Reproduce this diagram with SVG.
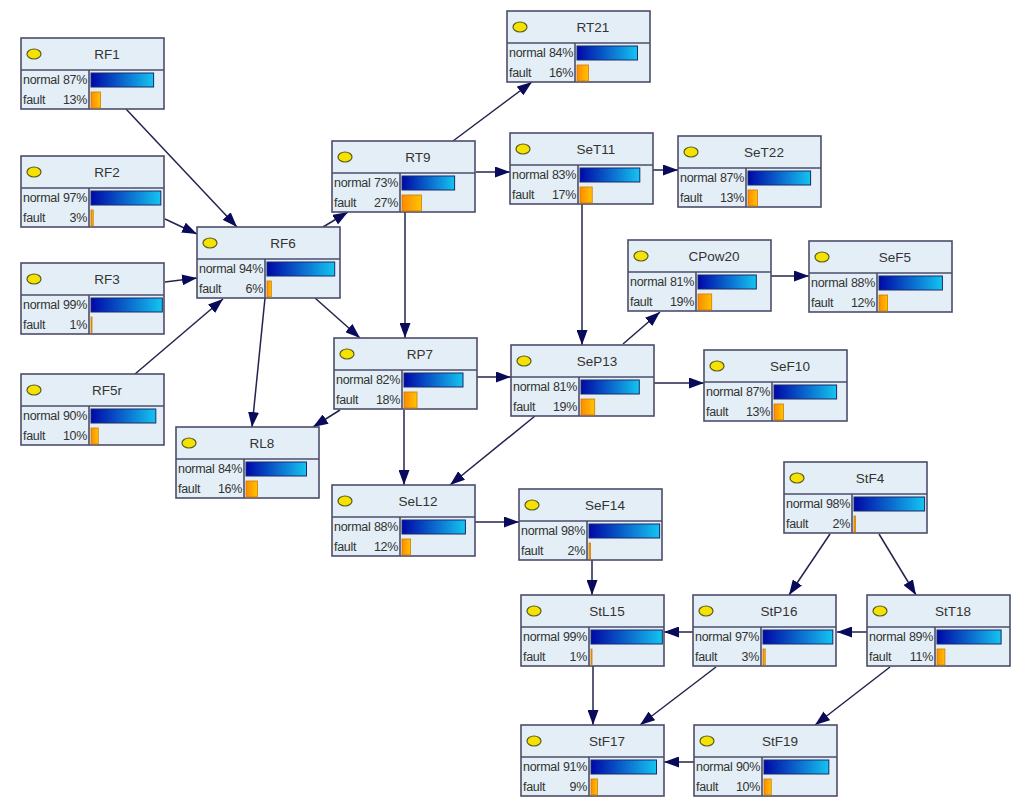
<svg xmlns="http://www.w3.org/2000/svg" width="1025" height="808" viewBox="0 0 1025 808">
<defs>
<linearGradient id="gn" x1="0" y1="0" x2="1" y2="0"><stop offset="0" stop-color="#0008a8"/><stop offset="1" stop-color="#14c4f0"/></linearGradient>
<linearGradient id="gf" x1="0" y1="0" x2="1" y2="0"><stop offset="0" stop-color="#ff8a00"/><stop offset="1" stop-color="#ffc400"/></linearGradient>
<marker id="ah" viewBox="0 0 15 11" refX="15" refY="5.5" markerWidth="15" markerHeight="11" markerUnits="userSpaceOnUse" orient="auto"><path d="M0,0 L15,5.5 L0,11 Z" fill="#0a0a5a"/></marker>
<g id="frame">
<rect x="0" y="0" width="143" height="71" fill="#e3eef6" stroke="#4d4d6b" stroke-width="1.6"/>
<line x1="0" y1="32" x2="143" y2="32" stroke="#4d4d6b" stroke-width="1.6"/>
<line x1="68" y1="32" x2="68" y2="71" stroke="#4d4d6b" stroke-width="1.6"/>
<ellipse cx="13" cy="16" rx="7" ry="5" fill="#f6e200" stroke="#5a5a20" stroke-width="1.2"/>
<text x="2" y="46" class="lb">normal</text>
<text x="2" y="66" class="lb">fault</text>
</g>
</defs>
<style>
.lb{font-family:"Liberation Sans",Arial,sans-serif;font-size:12.5px;fill:#333;letter-spacing:-0.3px}
.pc{font-family:"Liberation Sans",Arial,sans-serif;font-size:12.5px;fill:#333;text-anchor:end;letter-spacing:-0.3px}
.tt{font-family:"Liberation Sans",Arial,sans-serif;font-size:13.5px;fill:#333;text-anchor:middle}
.bn{fill:url(#gn);stroke:#1a2a6a;stroke-width:1}
.bf{fill:url(#gf);stroke:#d07800;stroke-width:0.8}
.ed line{stroke:#23234e;stroke-width:1.5;marker-end:url(#ah)}
</style>
<rect width="1025" height="808" fill="#ffffff"/>
<g id="connectors" class="ed">
<line x1="126" y1="109" x2="237" y2="227"/>
<line x1="165" y1="219" x2="197" y2="234"/>
<line x1="165" y1="282" x2="197" y2="278"/>
<line x1="135" y1="374" x2="223" y2="299"/>
<line x1="323" y1="227" x2="348" y2="212"/>
<line x1="315" y1="298" x2="360" y2="338"/>
<line x1="265" y1="298" x2="252" y2="427"/>
<line x1="453" y1="141" x2="532" y2="82"/>
<line x1="476" y1="172" x2="510" y2="172"/>
<line x1="405" y1="212" x2="405" y2="338"/>
<line x1="653" y1="170" x2="678" y2="170"/>
<line x1="582" y1="204" x2="582" y2="345"/>
<line x1="623" y1="344" x2="660" y2="312"/>
<line x1="771" y1="276" x2="809" y2="276"/>
<line x1="654" y1="383" x2="704" y2="383"/>
<line x1="477" y1="377" x2="511" y2="377"/>
<line x1="340" y1="410" x2="313" y2="427"/>
<line x1="404" y1="410" x2="404" y2="485"/>
<line x1="535" y1="416" x2="450" y2="485"/>
<line x1="475" y1="522" x2="519" y2="522"/>
<line x1="592" y1="560" x2="592" y2="595"/>
<line x1="830" y1="534" x2="789" y2="595"/>
<line x1="879" y1="534" x2="916" y2="595"/>
<line x1="693" y1="632" x2="664" y2="632"/>
<line x1="867" y1="632" x2="837" y2="632"/>
<line x1="593" y1="666" x2="593" y2="725"/>
<line x1="716" y1="667" x2="640" y2="725"/>
<line x1="890" y1="667" x2="815" y2="725"/>
<line x1="694" y1="762" x2="664" y2="762"/>
</g>
<g id="RF1" transform="translate(21,38)"><use href="#frame"/><text x="86" y="21" class="tt">RF1</text><text x="66" y="46" class="pc">87%</text><text x="66" y="66" class="pc">13%</text><rect x="70" y="35" width="62.6" height="14" class="bn"/><rect x="70" y="54" width="9.4" height="16" class="bf"/></g>
<g id="RF2" transform="translate(21,156)"><use href="#frame"/><text x="86" y="21" class="tt">RF2</text><text x="66" y="46" class="pc">97%</text><text x="66" y="66" class="pc">3%</text><rect x="70" y="35" width="69.8" height="14" class="bn"/><rect x="70" y="54" width="2.2" height="16" class="bf"/></g>
<g id="RF3" transform="translate(21,263)"><use href="#frame"/><text x="86" y="21" class="tt">RF3</text><text x="66" y="46" class="pc">99%</text><text x="66" y="66" class="pc">1%</text><rect x="70" y="35" width="71.3" height="14" class="bn"/><rect x="70" y="54" width="1" height="16" class="bf"/></g>
<g id="RF5r" transform="translate(21,374)"><use href="#frame"/><text x="86" y="21" class="tt">RF5r</text><text x="66" y="46" class="pc">90%</text><text x="66" y="66" class="pc">10%</text><rect x="70" y="35" width="64.8" height="14" class="bn"/><rect x="70" y="54" width="7.2" height="16" class="bf"/></g>
<g id="RF6" transform="translate(197,227)"><use href="#frame"/><text x="86" y="21" class="tt">RF6</text><text x="66" y="46" class="pc">94%</text><text x="66" y="66" class="pc">6%</text><rect x="70" y="35" width="67.7" height="14" class="bn"/><rect x="70" y="54" width="4.3" height="16" class="bf"/></g>
<g id="RT9" transform="translate(332,141)"><use href="#frame"/><text x="86" y="21" class="tt">RT9</text><text x="66" y="46" class="pc">73%</text><text x="66" y="66" class="pc">27%</text><rect x="70" y="35" width="52.6" height="14" class="bn"/><rect x="70" y="54" width="19.4" height="16" class="bf"/></g>
<g id="RT21" transform="translate(507,11)"><use href="#frame"/><text x="86" y="21" class="tt">RT21</text><text x="66" y="46" class="pc">84%</text><text x="66" y="66" class="pc">16%</text><rect x="70" y="35" width="60.5" height="14" class="bn"/><rect x="70" y="54" width="11.5" height="16" class="bf"/></g>
<g id="SeT11" transform="translate(510,133)"><use href="#frame"/><text x="86" y="21" class="tt">SeT11</text><text x="66" y="46" class="pc">83%</text><text x="66" y="66" class="pc">17%</text><rect x="70" y="35" width="59.8" height="14" class="bn"/><rect x="70" y="54" width="12.2" height="16" class="bf"/></g>
<g id="SeT22" transform="translate(678,136)"><use href="#frame"/><text x="86" y="21" class="tt">SeT22</text><text x="66" y="46" class="pc">87%</text><text x="66" y="66" class="pc">13%</text><rect x="70" y="35" width="62.6" height="14" class="bn"/><rect x="70" y="54" width="9.4" height="16" class="bf"/></g>
<g id="CPow20" transform="translate(628,240)"><use href="#frame"/><text x="86" y="21" class="tt">CPow20</text><text x="66" y="46" class="pc">81%</text><text x="66" y="66" class="pc">19%</text><rect x="70" y="35" width="58.3" height="14" class="bn"/><rect x="70" y="54" width="13.7" height="16" class="bf"/></g>
<g id="SeF5" transform="translate(809,241)"><use href="#frame"/><text x="86" y="21" class="tt">SeF5</text><text x="66" y="46" class="pc">88%</text><text x="66" y="66" class="pc">12%</text><rect x="70" y="35" width="63.4" height="14" class="bn"/><rect x="70" y="54" width="8.6" height="16" class="bf"/></g>
<g id="RP7" transform="translate(334,338)"><use href="#frame"/><text x="86" y="21" class="tt">RP7</text><text x="66" y="46" class="pc">82%</text><text x="66" y="66" class="pc">18%</text><rect x="70" y="35" width="59" height="14" class="bn"/><rect x="70" y="54" width="13" height="16" class="bf"/></g>
<g id="SeP13" transform="translate(511,345)"><use href="#frame"/><text x="86" y="21" class="tt">SeP13</text><text x="66" y="46" class="pc">81%</text><text x="66" y="66" class="pc">19%</text><rect x="70" y="35" width="58.3" height="14" class="bn"/><rect x="70" y="54" width="13.7" height="16" class="bf"/></g>
<g id="SeF10" transform="translate(704,350)"><use href="#frame"/><text x="86" y="21" class="tt">SeF10</text><text x="66" y="46" class="pc">87%</text><text x="66" y="66" class="pc">13%</text><rect x="70" y="35" width="62.6" height="14" class="bn"/><rect x="70" y="54" width="9.4" height="16" class="bf"/></g>
<g id="RL8" transform="translate(176,427)"><use href="#frame"/><text x="86" y="21" class="tt">RL8</text><text x="66" y="46" class="pc">84%</text><text x="66" y="66" class="pc">16%</text><rect x="70" y="35" width="60.5" height="14" class="bn"/><rect x="70" y="54" width="11.5" height="16" class="bf"/></g>
<g id="SeL12" transform="translate(332,485)"><use href="#frame"/><text x="86" y="21" class="tt">SeL12</text><text x="66" y="46" class="pc">88%</text><text x="66" y="66" class="pc">12%</text><rect x="70" y="35" width="63.4" height="14" class="bn"/><rect x="70" y="54" width="8.6" height="16" class="bf"/></g>
<g id="SeF14" transform="translate(519,489)"><use href="#frame"/><text x="86" y="21" class="tt">SeF14</text><text x="66" y="46" class="pc">98%</text><text x="66" y="66" class="pc">2%</text><rect x="70" y="35" width="70.6" height="14" class="bn"/><rect x="70" y="54" width="1.4" height="16" class="bf"/></g>
<g id="StF4" transform="translate(784,462)"><use href="#frame"/><text x="86" y="21" class="tt">StF4</text><text x="66" y="46" class="pc">98%</text><text x="66" y="66" class="pc">2%</text><rect x="70" y="35" width="70.6" height="14" class="bn"/><rect x="70" y="54" width="1.4" height="16" class="bf"/></g>
<g id="StL15" transform="translate(521,595)"><use href="#frame"/><text x="86" y="21" class="tt">StL15</text><text x="66" y="46" class="pc">99%</text><text x="66" y="66" class="pc">1%</text><rect x="70" y="35" width="71.3" height="14" class="bn"/><rect x="70" y="54" width="1" height="16" class="bf"/></g>
<g id="StP16" transform="translate(693,595)"><use href="#frame"/><text x="86" y="21" class="tt">StP16</text><text x="66" y="46" class="pc">97%</text><text x="66" y="66" class="pc">3%</text><rect x="70" y="35" width="69.8" height="14" class="bn"/><rect x="70" y="54" width="2.2" height="16" class="bf"/></g>
<g id="StT18" transform="translate(867,595)"><use href="#frame"/><text x="86" y="21" class="tt">StT18</text><text x="66" y="46" class="pc">89%</text><text x="66" y="66" class="pc">11%</text><rect x="70" y="35" width="64.1" height="14" class="bn"/><rect x="70" y="54" width="7.9" height="16" class="bf"/></g>
<g id="StF17" transform="translate(521,725)"><use href="#frame"/><text x="86" y="21" class="tt">StF17</text><text x="66" y="46" class="pc">91%</text><text x="66" y="66" class="pc">9%</text><rect x="70" y="35" width="65.5" height="14" class="bn"/><rect x="70" y="54" width="6.5" height="16" class="bf"/></g>
<g id="StF19" transform="translate(694,725)"><use href="#frame"/><text x="86" y="21" class="tt">StF19</text><text x="66" y="46" class="pc">90%</text><text x="66" y="66" class="pc">10%</text><rect x="70" y="35" width="64.8" height="14" class="bn"/><rect x="70" y="54" width="7.2" height="16" class="bf"/></g>
</svg>
